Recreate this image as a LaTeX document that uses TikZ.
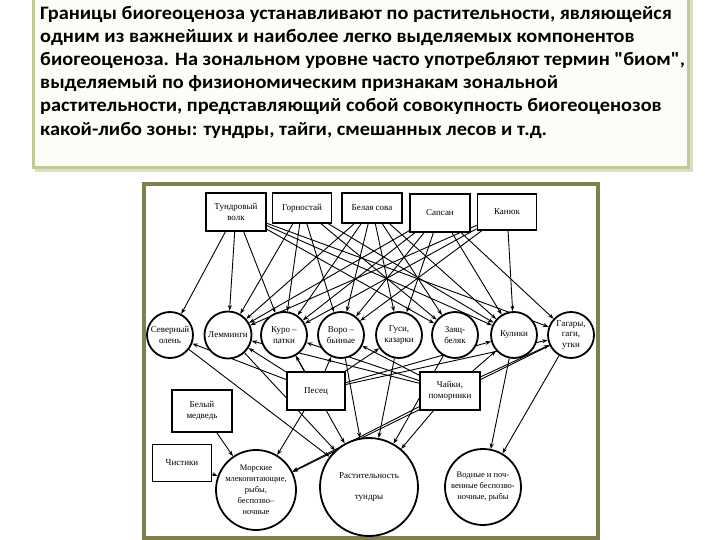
\documentclass[tikz,border=0pt]{standalone}
\usepackage{fontspec}
\setmainfont{Liberation Serif}
\newfontfamily\calfont{Carlito}
\usetikzlibrary{arrows.meta}
\definecolor{olivedark}{RGB}{128,128,78}
\definecolor{olivelight}{RGB}{196,199,152}
\definecolor{boxfill}{RGB}{253,253,247}
\newcommand{\wideline}[1]{\scalebox{1.07}[1]{#1}}
\pgfdeclarelayer{bglayer}
\pgfdeclarelayer{edgelayer}
\pgfsetlayers{bglayer,edgelayer,main}
\begin{document}
\begin{tikzpicture}[x=1pt,y=-1pt,
  txt/.style={anchor=base west,inner sep=0pt,font=\calfont\bfseries\fontsize{19}{22}\selectfont},
  rbox/.style={draw,fill=white,line width=1.8pt,inner sep=1pt,align=center,font=\fontsize{9}{10.5}\selectfont},
  circ/.style={circle,draw,fill=white,line width=1.8pt,inner sep=0pt,align=center,font=\fontsize{9}{10.5}\selectfont},
  arr/.style={-{Stealth[length=5.5pt,width=4pt]},line width=0.9pt}]
\useasboundingbox (0,0) rectangle (720,540);
\begin{pgfonlayer}{bglayer}
\fill[white] (0,0) rectangle (720,540);
% text panel
\draw[olivelight!60,line width=3pt] (36,-2) rectangle (691,171);
\draw[olivelight,line width=3pt,fill=boxfill] (33,-5) rectangle (688,168);
% diagram frame
\draw[olivedark,line width=4pt,fill=white] (144,184) rectangle (598,538);
\end{pgfonlayer}
\node[txt] (t1) at (40,20) {\wideline{Границы биогеоценоза устанавливают по растительности, являющейся}};
\node[txt] (t2) at (40,43) {\wideline{одним из важнейших и наиболее легко выделяемых компонентов}};
\node[txt] (t3) at (40,66) {\wideline{биогеоценоза. На зональном уровне часто употребляют термин "биом",}};
\node[txt] (t4) at (40,89) {\wideline{выделяемый по физиономическим признакам зональной}};
\node[txt] (t5) at (40,112) {\wideline{растительности, представляющий собой совокупность биогеоценозов}};
\node[txt] (t6) at (40,136) {\wideline{какой-либо зоны: тундры, тайги, смешанных лесов и т.д.}};
% top boxes
\node[rbox,minimum width=60pt,minimum height=38pt] (volk) at (236,212) {Тундровый\\волк};
\node[rbox,minimum width=59pt,minimum height=30pt] (gorn) at (302,208) {Горностай};
\node[rbox,minimum width=60pt,minimum height=30pt] (sova) at (372,208) {Белая сова};
\node[rbox,minimum width=60pt,minimum height=38pt] (sapsan) at (440,213) {Сапсан};
\node[rbox,minimum width=59pt,minimum height=36pt] (kanuk) at (507,212) {Канюк};
% circles
\node[circ,minimum size=46pt] (olen) at (170,335) {Северный\\олень};
\node[circ,minimum size=47pt] (lem) at (228,335) {Лемминги};
\node[circ,minimum size=46pt] (kur) at (284,335) {Куро –\\патки};
\node[circ,minimum size=46pt] (vorob) at (341,335) {Воро –\\бьиные};
\node[circ,minimum size=46pt] (gusi) at (399,335) {Гуси,\\казарки};
\node[circ,minimum size=46pt] (zayac) at (455,335) {Заяц-\\беляк};
\node[circ,minimum size=46pt] (kuliki) at (514,335) {Кулики};
\node[circ,minimum size=46pt] (gagary) at (571,335) {Гагары,\\гаги,\\утки};
% middle boxes
\node[rbox,minimum width=58pt,minimum height=38pt] (pesec) at (316,391) {Песец};
\node[rbox,minimum width=60pt,minimum height=38pt] (chaiki) at (450,391) {Чайки,\\поморники};
\node[rbox,minimum width=60pt,minimum height=42pt] (medved) at (202,411) {Белый\\медведь};
\node[rbox,minimum width=59pt,minimum height=37pt] (chistiki) at (182,463) {Чистики};
% bottom circles
\node[circ,minimum size=80pt,font=\fontsize{8.5}{11}\selectfont] (morskie) at (256,490) {Морские\\млекопитающие,\\рыбы,\\беспозво–\\ночные};
\node[circ,minimum size=98pt] (rast) at (369,487) {Растительность\\[10pt]тундры};
\node[circ,minimum size=76pt,font=\fontsize{8.5}{11}\selectfont] (vodnye) at (483,487) {Водные и поч-\\венные беспозво-\\ночные, рыбы};
\begin{pgfonlayer}{edgelayer}
% top edges
\foreach \a/\b in {volk/olen,volk/lem,volk/kur,volk/zayac,volk/kuliki,volk/gagary,
  gorn/lem,gorn/kur,gorn/vorob,gorn/zayac,gorn/kuliki,
  sova/lem,sova/kur,sova/vorob,sova/gusi,sova/zayac,sova/kuliki,
  sapsan/lem,sapsan/kur,sapsan/vorob,sapsan/gusi,sapsan/kuliki,sapsan/gagary,
  kanuk/lem,kanuk/kur,kanuk/vorob,kanuk/kuliki}
  \draw[arr] (\a) -- (\b);
% lower edges
\foreach \a/\b in {olen/rast,lem/rast,kur/rast,vorob/rast,gusi/rast,zayac/rast,
  pesec/olen,pesec/lem,pesec/kur,pesec/vorob,pesec/gusi,pesec/kuliki,pesec/gagary,pesec/morskie,
  chaiki/lem,chaiki/kur,chaiki/vorob,chaiki/kuliki,chaiki/gagary,chaiki/morskie,chaiki/rast,
  gagary/morskie,gagary/vodnye,kuliki/vodnye,medved/morskie,chistiki/morskie}
  \draw[arr] (\a) -- (\b);
\end{pgfonlayer}
\end{tikzpicture}
\end{document}
